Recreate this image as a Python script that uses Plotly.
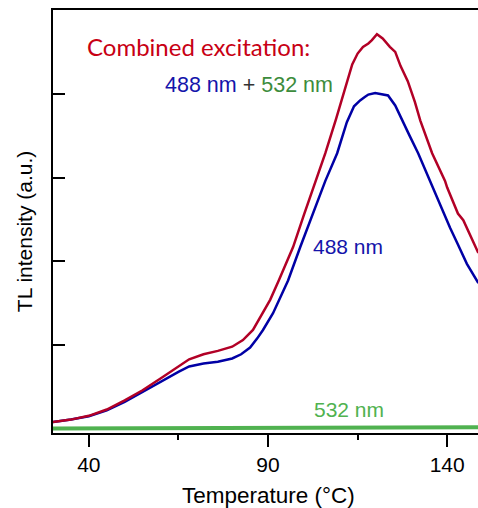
import plotly.graph_objects as go

# ---- data ----
temp_red = [30, 35, 40, 45, 50, 55, 60, 65, 68, 72, 76, 80, 83, 85.8, 88.6, 90.6, 93, 97, 100,
            103.4, 106, 109, 111.5, 113.5, 115, 116.5, 118, 119, 120.4, 122, 124, 125.5, 127,
            129, 131, 132.5, 135.8, 139.4, 140, 143, 144.5, 148.7]
tl_red = [0.08, 0.11, 0.155, 0.23, 0.34, 0.46, 0.60, 0.74, 0.83, 0.89, 0.93, 0.98, 1.06, 1.18, 1.38,
          1.54, 1.77, 2.17, 2.55, 2.96, 3.29, 3.70, 4.07, 4.35, 4.48, 4.56, 4.60, 4.64, 4.71, 4.66,
          4.56, 4.50, 4.33, 4.15, 3.90, 3.68, 3.29, 2.96, 2.88, 2.57, 2.49, 2.10]

temp_blue = [30, 35, 40, 45, 50, 55, 60, 65, 68, 72, 76, 80, 82.5, 85, 87, 88.6, 91.4, 93.5, 95.6,
             99, 102.3, 106, 109.3, 112, 114, 115.7, 117, 118, 119.9, 122, 123.5, 125.5, 127.4,
             129.5, 131.9, 134, 135.8, 138, 140, 140.8, 143, 145.5, 148.7]
tl_blue = [0.08, 0.11, 0.15, 0.22, 0.32, 0.44, 0.57, 0.68, 0.745, 0.78, 0.80, 0.84, 0.89, 0.97, 1.08,
           1.18, 1.38, 1.58, 1.77, 2.17, 2.55, 2.96, 3.29, 3.66, 3.85, 3.92, 3.96, 3.99, 4.01, 3.99,
           3.98, 3.86, 3.68, 3.50, 3.29, 3.08, 2.90, 2.67, 2.49, 2.40, 2.20, 1.97, 1.74]

temp_green = [30, 50, 70, 90, 110, 120, 130, 140, 148.7]
tl_green = [0.005, 0.006, 0.006, 0.008, 0.010, 0.012, 0.015, 0.020, 0.020]

x_ticks = [40, 90, 140]
x_minor_ticks = [65, 115]
y_ticks = [1, 2, 3, 4]

RED = "rgb(178,0,38)"
BLUE = "rgb(0,0,165)"
GREEN = "rgb(80,178,80)"
TXT_RED = "rgb(200,0,20)"
TXT_BLUE = "rgb(20,20,170)"
TXT_GREEN = "rgb(60,140,60)"
ARIAL = "Liberation Sans, Arial, sans-serif"

fig = go.Figure()
fig.add_trace(go.Scatter(x=temp_green, y=tl_green, mode="lines",
                         line=dict(color=GREEN, width=4), name="532 nm"))
fig.add_trace(go.Scatter(x=temp_blue, y=tl_blue, mode="lines",
                         line=dict(color=BLUE, width=2.5), name="488 nm"))
fig.add_trace(go.Scatter(x=temp_red, y=tl_red, mode="lines",
                         line=dict(color=RED, width=2.5), name="488 nm + 532 nm"))

fig.update_layout(
    width=478, height=508,
    margin=dict(l=53, r=0, t=10, b=75),
    paper_bgcolor="white", plot_bgcolor="white",
    showlegend=False,
    font=dict(family=ARIAL, size=21, color="black"),
    xaxis=dict(range=[30.0, 148.6], tickvals=x_ticks, ticktext=[str(v) for v in x_ticks],
               ticks="outside", ticklen=12, tickwidth=1.5, tickcolor="black",
               showline=True, linecolor="black", linewidth=1.8, mirror=True,
               showgrid=False, zeroline=False,
               minor=dict(tickvals=x_minor_ticks, ticks="outside", ticklen=5,
                          tickwidth=1.5, tickcolor="black"),
               tickfont=dict(size=21, family=ARIAL)),
    yaxis=dict(range=[-0.05, 5.0], tickvals=y_ticks, showticklabels=False,
               ticks="inside", ticklen=12, tickwidth=1.5, tickcolor="black",
               showline=True, linecolor="black", linewidth=1.8, mirror=False,
               showgrid=False, zeroline=False),
)

annos = [
    dict(x=39.0, y=4.57, xref="x", yref="y", text="Combined excitation:",
         font=dict(family="Lato, sans-serif", size=24, color=TXT_RED)),
    dict(x=60.6, y=4.10, xref="x", yref="y",
         text=f"<span style='color:{TXT_BLUE}'>488 nm</span> <span style='color:#333'>+</span> "
              f"<span style='color:{TXT_GREEN}'>532 nm</span>",
         font=dict(family=ARIAL, size=21.5)),
    dict(x=102.0, y=2.18, xref="x", yref="y", text="488 nm",
         font=dict(family=ARIAL, size=21, color=TXT_BLUE)),
    dict(x=102.3, y=0.23, xref="x", yref="y", text="532 nm",
         font=dict(family=ARIAL, size=21, color=GREEN)),
]
for a in annos:
    fig.add_annotation(showarrow=False, xanchor="left", yanchor="middle", **a)

fig.add_annotation(x=90, y=-0.147, xref="x", yref="paper", text="Temperature (°C)",
                   showarrow=False, xanchor="center", yanchor="middle",
                   font=dict(family=ARIAL, size=22.5, color="black"))
fig.add_annotation(x=-0.068, y=0.475, xref="paper", yref="paper", text="TL intensity (a.u.)",
                   textangle=-90, showarrow=False, xanchor="center", yanchor="middle",
                   font=dict(family=ARIAL, size=21, color="black"))

fig.write_html("out.html", config={"displayModeBar": False},
               post_script="document.body.style.margin='0px';document.body.style.overflow='hidden';")
